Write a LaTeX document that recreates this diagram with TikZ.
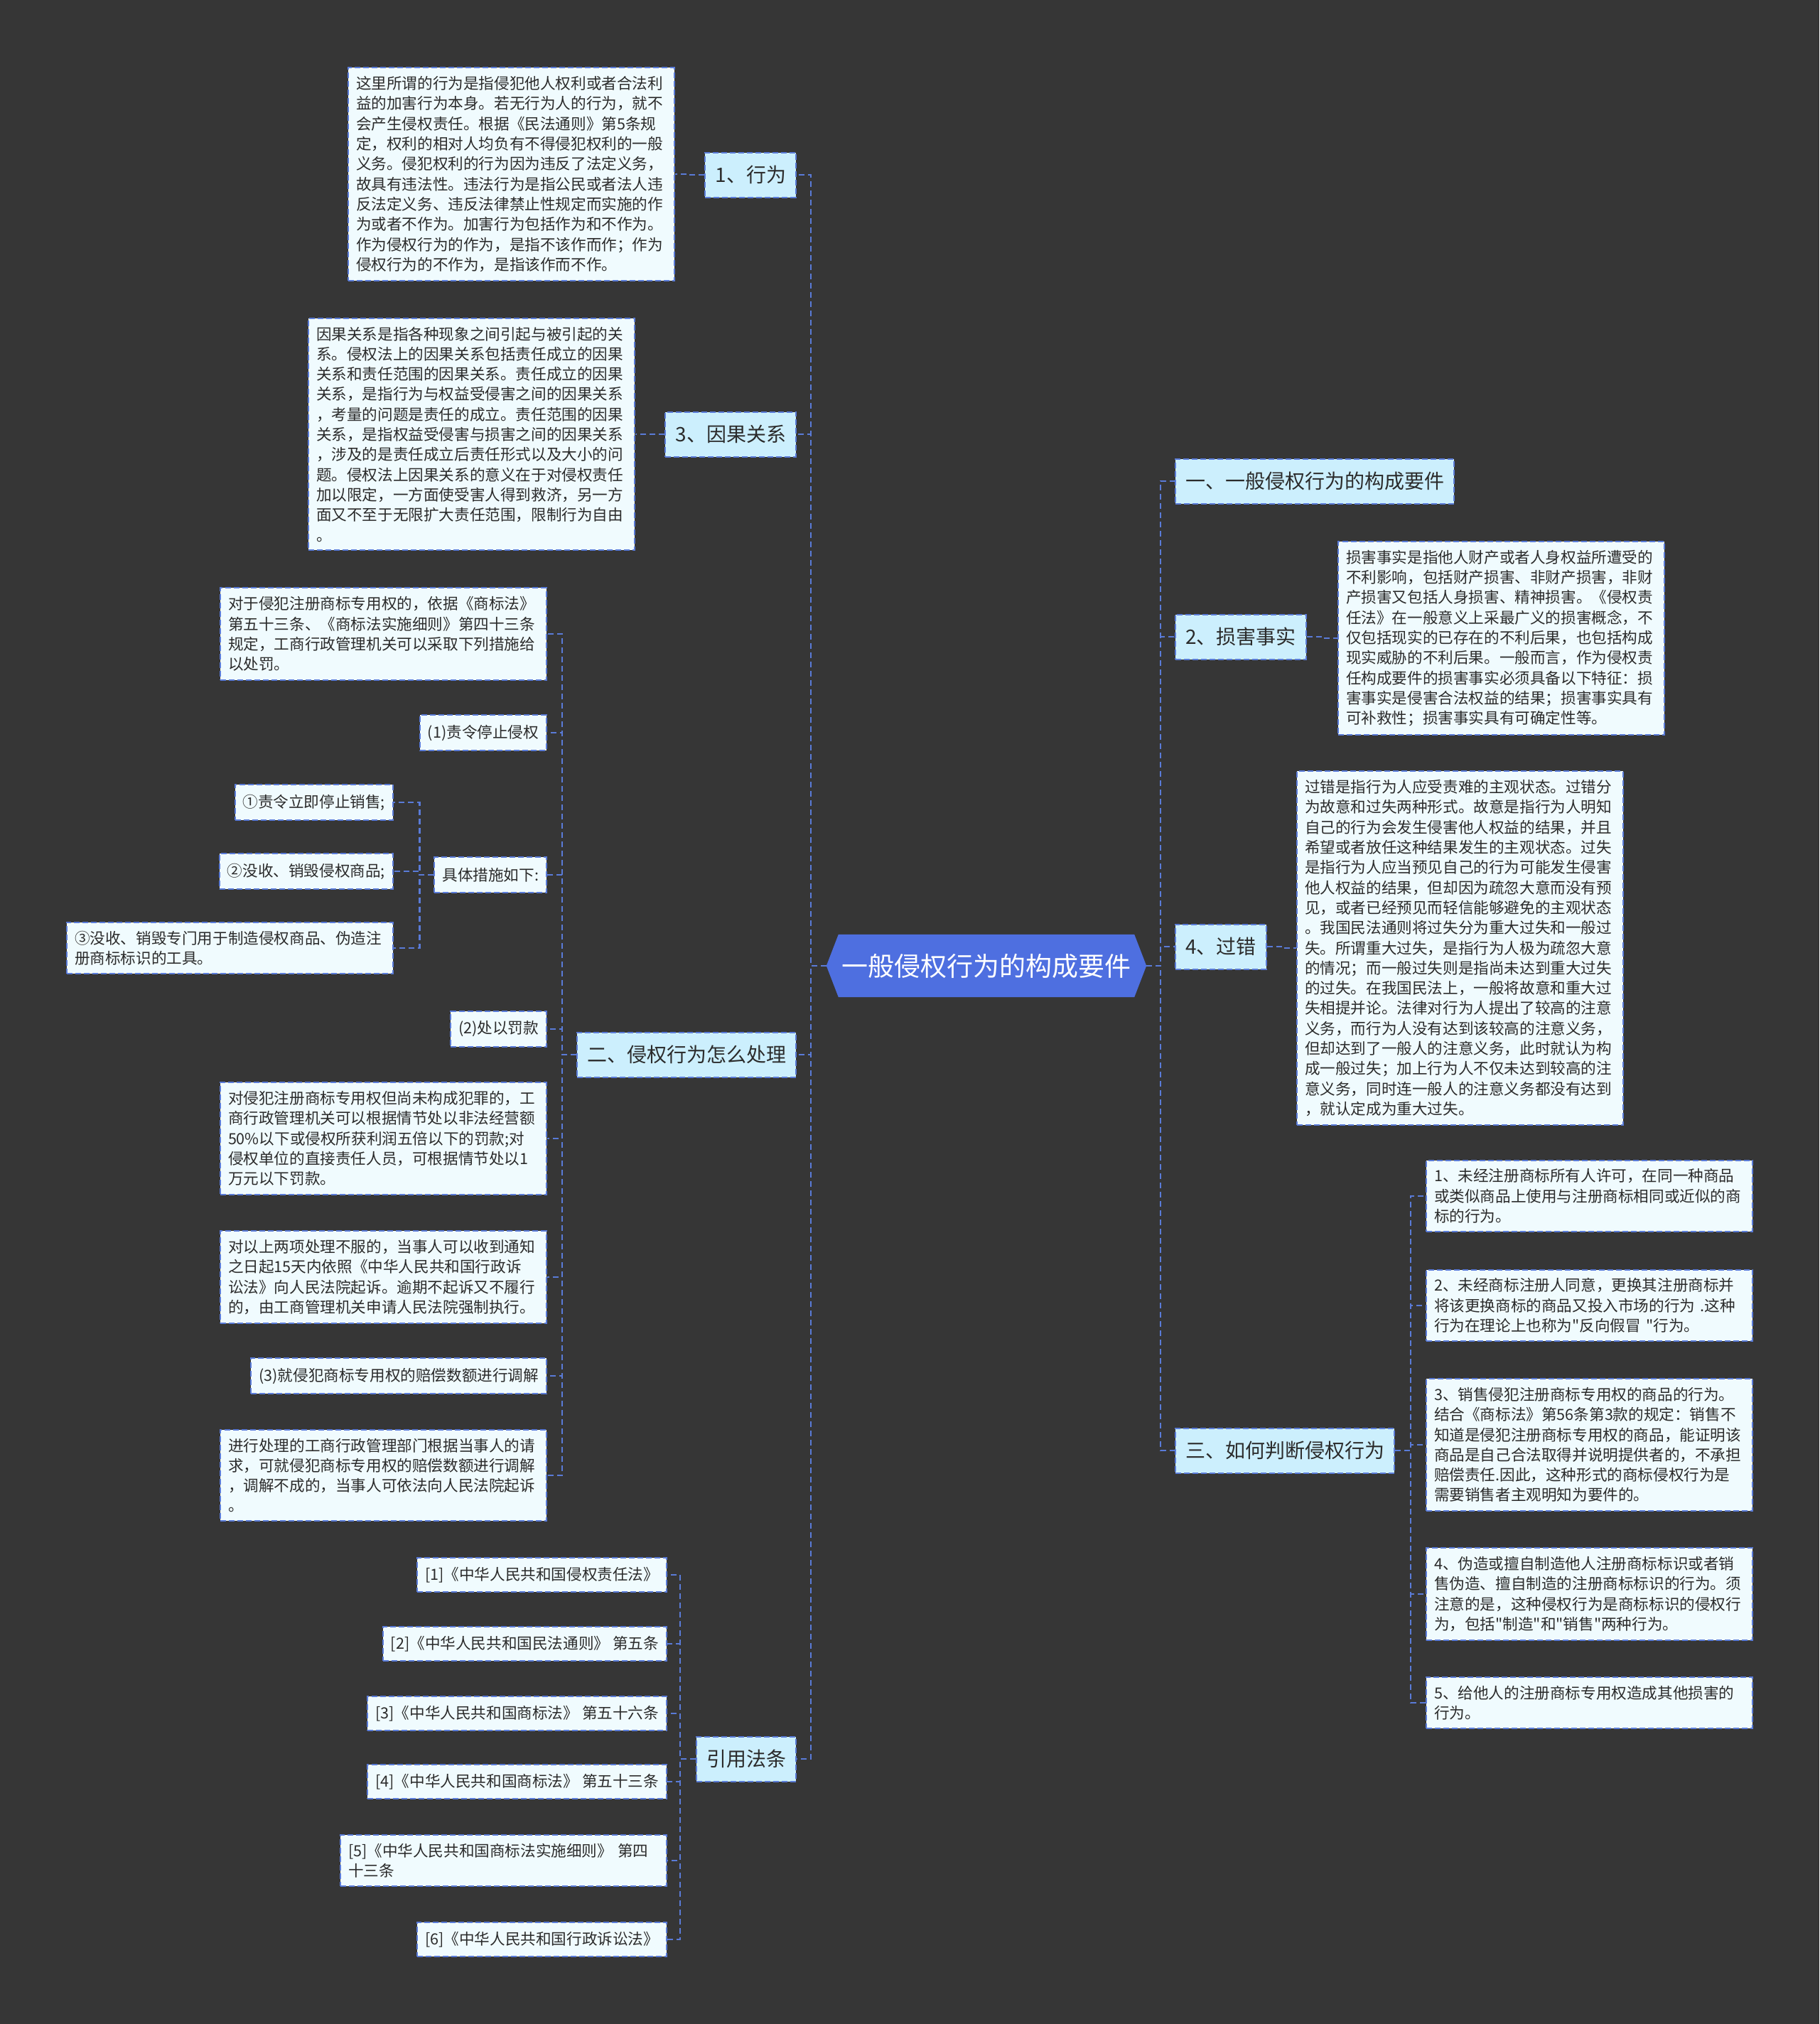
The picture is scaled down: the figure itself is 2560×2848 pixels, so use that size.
\documentclass[tikz,border=0pt]{standalone}
\usepackage{fontspec}
\setmainfont{Noto Sans CJK SC}[Ligatures=TeXOff]
\usetikzlibrary{backgrounds}
\definecolor{bg}{HTML}{363636}
\definecolor{linec}{HTML}{5A7BD8}
\definecolor{lvlfill}{HTML}{CCEFFD}
\definecolor{leaffill}{HTML}{F0FBFE}
\definecolor{txt}{HTML}{2B2B2B}
\definecolor{centerfill}{HTML}{4E6FE0}
\begin{document}
\begin{tikzpicture}[x=1pt,y=-1pt,
  conn/.style={draw=linec, line width=2.2pt, dash pattern=on 8pt off 5pt},
  box/.style={draw=linec, line width=2pt, dash pattern=on 8pt off 4pt, text=txt, inner xsep=11pt, inner ysep=12pt},
  lvl/.style={box, fill=lvlfill, font=\fontsize{28}{34}\selectfont, minimum height=63pt, inner xsep=14pt, inner ysep=0pt},
  leaf/.style={box, fill=leaffill, font=\fontsize{21.6}{28.3}\selectfont, align=left, text width=437pt},
  tag/.style={box, fill=leaffill, font=\fontsize{21.6}{28.3}\selectfont, minimum height=50pt, inner ysep=0pt},
]
\begin{pgfonlayer}{background}
\fill[bg] (0,0) rectangle (2560,2848);
\end{pgfonlayer}
\useasboundingbox (0,0) rectangle (2560,2848);

% root
\node[font=\fontsize{37}{44}\selectfont, text=white, minimum width=450pt, minimum height=88pt, inner sep=0pt] (root) at (1388,1359) {一般侵权行为的构成要件};
\begin{pgfonlayer}{background}
\fill[centerfill] (root.west) -- ([xshift=17pt]root.north west) -- ([xshift=-17pt]root.north east) -- (root.east) -- ([xshift=-17pt]root.south east) -- ([xshift=17pt]root.south west) -- cycle;
\end{pgfonlayer}

% level 1 left
\node[lvl, anchor=east] (l1) at (1121,246) {1、行为};
\node[lvl, anchor=east] (l3) at (1121,611) {3、因果关系};
\node[lvl, anchor=east] (l2) at (1121,1484) {二、侵权行为怎么处理};
\node[lvl, anchor=east] (l4) at (1121,2475) {引用法条};
% level 1 right
\node[lvl, anchor=west] (r1) at (1653,677) {一、一般侵权行为的构成要件};
\node[lvl, anchor=west] (r2) at (1653,896) {2、损害事实};
\node[lvl, anchor=west] (r4) at (1653,1332) {4、过错};
\node[lvl, anchor=west] (r3) at (1653,2041) {三、如何判断侵权行为};

% leaves left
\node[leaf, anchor=east] (a1) at (950,245) {这里所谓的行为是指侵犯他人权利或者合法利\\益的加害行为本身。若无行为人的行为，就不\\会产生侵权责任。根据《民法通则》第5条规\\定，权利的相对人均负有不得侵犯权利的一般\\义务。侵犯权利的行为因为违反了法定义务，\\故具有违法性。违法行为是指公民或者法人违\\反法定义务、违反法律禁止性规定而实施的作\\为或者不作为。加害行为包括作为和不作为。\\作为侵权行为的作为，是指不该作而作；作为\\侵权行为的不作为，是指该作而不作。};
\node[leaf, anchor=east] (a3) at (894,611) {因果关系是指各种现象之间引起与被引起的关\\系。侵权法上的因果关系包括责任成立的因果\\关系和责任范围的因果关系。责任成立的因果\\关系，是指行为与权益受侵害之间的因果关系\\，考量的问题是责任的成立。责任范围的因果\\关系，是指权益受侵害与损害之间的因果关系\\，涉及的是责任成立后责任形式以及大小的问\\题。侵权法上因果关系的意义在于对侵权责任\\加以限定，一方面使受害人得到救济，另一方\\面又不至于无限扩大责任范围，限制行为自由\\。};

\node[leaf, anchor=east] (b0) at (770,892) {对于侵犯注册商标专用权的，依据《商标法》\\第五十三条、《商标法实施细则》第四十三条\\规定，工商行政管理机关可以采取下列措施给\\以处罚。};
\node[tag, anchor=east] (b1) at (770,1031) {(1)责令停止侵权};
\node[tag, anchor=east] (b2) at (770,1231) {具体措施如下:};
\node[tag, anchor=east] (c1) at (554,1129) {①责令立即停止销售;};
\node[tag, anchor=east] (c2) at (554,1226) {②没收、销毁侵权商品;};
\node[leaf, anchor=east] (c3) at (554,1334) {③没收、销毁专门用于制造侵权商品、伪造注\\册商标标识的工具。};
\node[tag, anchor=east] (b3) at (770,1448) {(2)处以罚款};
\node[leaf, anchor=east] (b4) at (770,1602) {对侵犯注册商标专用权但尚未构成犯罪的，工\\商行政管理机关可以根据情节处以非法经营额\\50\%以下或侵权所获利润五倍以下的罚款;对\\侵权单位的直接责任人员，可根据情节处以1\\万元以下罚款。};
\node[leaf, anchor=east] (b5) at (770,1797) {对以上两项处理不服的，当事人可以收到通知\\之日起15天内依照《中华人民共和国行政诉\\讼法》向人民法院起诉。逾期不起诉又不履行\\的，由工商管理机关申请人民法院强制执行。};
\node[tag, anchor=east] (b6) at (770,1936) {(3)就侵犯商标专用权的赔偿数额进行调解};
\node[leaf, anchor=east] (b7) at (770,2076) {进行处理的工商行政管理部门根据当事人的请\\求，可就侵犯商标专用权的赔偿数额进行调解\\，调解不成的，当事人可依法向人民法院起诉\\。};

\node[tag, anchor=east, minimum height=48pt] (f1) at (939,2216) {[1]《中华人民共和国侵权责任法》};
\node[tag, anchor=east, minimum height=48pt] (f2) at (939,2313) {[2]《中华人民共和国民法通则》 第五条};
\node[tag, anchor=east, minimum height=48pt] (f3) at (939,2411) {[3]《中华人民共和国商标法》 第五十六条};
\node[tag, anchor=east, minimum height=48pt] (f4) at (939,2507) {[4]《中华人民共和国商标法》 第五十三条};
\node[leaf, anchor=east] (f5) at (939,2618) {[5]《中华人民共和国商标法实施细则》 第四\\十三条};
\node[tag, anchor=east, minimum height=48pt] (f6) at (939,2729) {[6]《中华人民共和国行政诉讼法》};

% leaves right
\node[leaf, anchor=west] (d2) at (1882,898) {损害事实是指他人财产或者人身权益所遭受的\\不利影响，包括财产损害、非财产损害，非财\\产损害又包括人身损害、精神损害。《侵权责\\任法》在一般意义上采最广义的损害概念，不\\仅包括现实的已存在的不利后果，也包括构成\\现实威胁的不利后果。一般而言，作为侵权责\\任构成要件的损害事实必须具备以下特征：损\\害事实是侵害合法权益的结果；损害事实具有\\可补救性；损害事实具有可确定性等。};
\node[leaf, anchor=west] (d4) at (1824,1334) {过错是指行为人应受责难的主观状态。过错分\\为故意和过失两种形式。故意是指行为人明知\\自己的行为会发生侵害他人权益的结果，并且\\希望或者放任这种结果发生的主观状态。过失\\是指行为人应当预见自己的行为可能发生侵害\\他人权益的结果，但却因为疏忽大意而没有预\\见，或者已经预见而轻信能够避免的主观状态\\。我国民法通则将过失分为重大过失和一般过\\失。所谓重大过失，是指行为人极为疏忽大意\\的情况；而一般过失则是指尚未达到重大过失\\的过失。在我国民法上，一般将故意和重大过\\失相提并论。法律对行为人提出了较高的注意\\义务，而行为人没有达到该较高的注意义务，\\但却达到了一般人的注意义务，此时就认为构\\成一般过失；加上行为人不仅未达到较高的注\\意义务，同时连一般人的注意义务都没有达到\\，就认定成为重大过失。};

\node[leaf, anchor=west] (e1) at (2006,1683) {1、未经注册商标所有人许可，在同一种商品\\或类似商品上使用与注册商标相同或近似的商\\标的行为。};
\node[leaf, anchor=west] (e2) at (2006,1837) {2、未经商标注册人同意，更换其注册商标并\\将该更换商标的商品又投入市场的行为 .这种\\行为在理论上也称为"反向假冒 "行为。};
\node[leaf, anchor=west] (e3) at (2006,2033) {3、销售侵犯注册商标专用权的商品的行为。\\结合《商标法》第56条第3款的规定：销售不\\知道是侵犯注册商标专用权的商品，能证明该\\商品是自己合法取得并说明提供者的，不承担\\赔偿责任.因此，这种形式的商标侵权行为是\\需要销售者主观明知为要件的。};
\node[leaf, anchor=west] (e4) at (2006,2243) {4、伪造或擅自制造他人注册商标标识或者销\\售伪造、擅自制造的注册商标标识的行为。须\\注意的是，这种侵权行为是商标标识的侵权行\\为，包括"制造"和"销售"两种行为。};
\node[leaf, anchor=west] (e5) at (2006,2396) {5、给他人的注册商标专用权造成其他损害的\\行为。};

% connectors root
\foreach \n in {l1,l3,l2,l4} \draw[conn] (root.west) -- ++(-22,0) |- (\n.east);
\foreach \n in {r1,r2,r4,r3} \draw[conn] (root.east) -- ++(20,0) |- (\n.west);
% level 1 -> leaves
\draw[conn] (l1.west) -- ++(-21,0) |- (a1.east);
\draw[conn] (l3.west) -- ++(-22,0) |- (a3.east);
\foreach \n in {b0,b1,b2,b3,b4,b5,b6,b7} \draw[conn] (l2.west) -- ++(-20,0) |- (\n.east);
\foreach \n in {c1,c2,c3} \draw[conn] (b2.west) -- ++(-20,0) |- (\n.east);
\foreach \n in {f1,f2,f3,f4,f5,f6} \draw[conn] (l4.west) -- ++(-22,0) |- (\n.east);
\draw[conn] (r2.east) -- ++(21,0) |- (d2.west);
\draw[conn] (r4.east) -- ++(21,0) |- (d4.west);
\foreach \n in {e1,e2,e3,e4,e5} \draw[conn] (r3.east) -- ++(22,0) |- (\n.west);
\end{tikzpicture}
\end{document}
